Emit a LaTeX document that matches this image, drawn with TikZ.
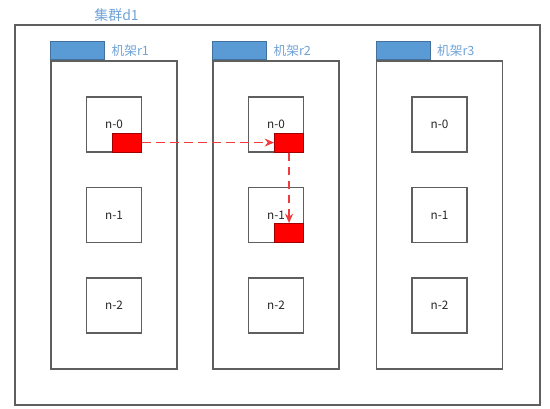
\documentclass[tikz,border=0pt]{standalone}
\usepackage{fontspec}
\setmainfont{Noto Sans CJK SC}
\usetikzlibrary{arrows.meta,positioning}
\definecolor{boxgray}{HTML}{5F5F5F}
\definecolor{tabblue}{HTML}{5B9BD5}
\definecolor{tabedge}{HTML}{41719C}
\definecolor{lblblue}{HTML}{6FA3D8}
\definecolor{redfill}{HTML}{FF0000}
\definecolor{rededge}{HTML}{A00000}
\definecolor{flowred}{HTML}{F03C3C}
\tikzset{
  frame/.style={draw=boxgray, line width=0.9pt, fill=white, inner sep=0pt},
  cluster/.style={frame, minimum width=525*0.75pt, minimum height=380*0.75pt},
  rack/.style={frame, minimum width=126*0.75pt, minimum height=308*0.75pt},
  tab/.style={draw=tabedge, fill=tabblue, line width=0.8pt, inner sep=0pt,
    minimum width=54*0.75pt, minimum height=18*0.75pt, anchor=south west},
  rlabel/.style={text=lblblue, font=\fontsize{9.5pt}{11pt}\selectfont, inner sep=0pt, anchor=west},
  srv/.style={frame, minimum width=55*0.75pt, minimum height=55*0.75pt,
    font=\fontsize{8.8pt}{10pt}\selectfont, text=black!85},
  blk/.style={draw=rededge, fill=redfill, line width=0.8pt, inner sep=0pt,
    minimum width=29*0.75pt, minimum height=19*0.75pt, anchor=south east},
  flow/.style={draw=flowred, line width=1pt, dash pattern=on 6.5pt off 4pt,
    -{Stealth[length=7pt,width=6pt]}}
}
\begin{document}
\begin{tikzpicture}[x=0.75pt,y=-0.75pt]
\useasboundingbox (0,0) rectangle (550,409);
\node[cluster] (d1) at (277.5,215) {};
\node[rlabel, font=\fontsize{10.5pt}{12pt}\selectfont] (d1lbl) at (94,15) {集群d1};
\foreach \r/\x in {1/114,2/276,3/439.5}{
  \node[rack] (r\r) at (\x,215) {};
  \node[tab] (t\r) at (r\r.north west) {};
  \node[rlabel] (l\r) at ([xshift=4.5pt]t\r.east) {机架r\r};
  \foreach \n/\y in {0/124.5,1/215,2/305.5}{
    \node[srv] (s\r\n) at (\x,\y) {n-\n};
  }
}
\node[blk] (b10) at (s10.south east) {};
\node[blk] (b20) at (s20.south east) {};
\node[blk] (b21) at (s21.south east) {};
\draw[flow] (b10.east) -- (b20.west);
\draw[flow] (b20.south) -- (b21.north);
\end{tikzpicture}
\end{document}
